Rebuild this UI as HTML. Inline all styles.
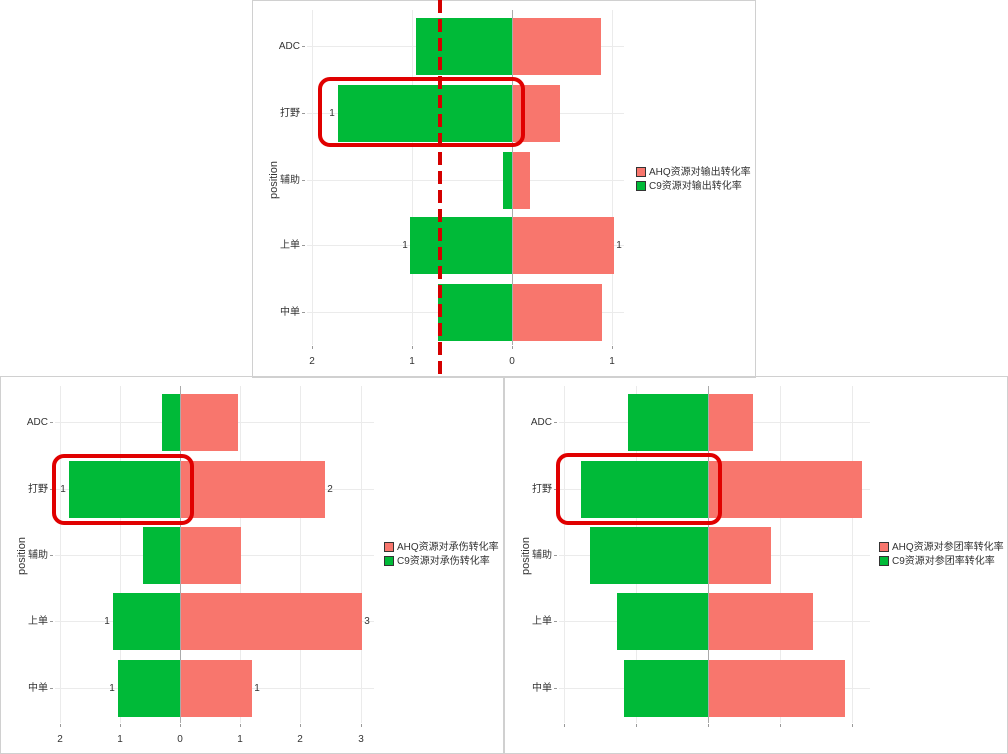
<!DOCTYPE html>
<html><head><meta charset="utf-8"><style>
body{margin:0;width:1008px;height:754px;background:#fff;position:relative;overflow:hidden;font-family:"Liberation Sans","Noto Sans CJK SC",sans-serif;}
div{position:absolute;box-sizing:border-box;}
.t{font-size:10px;color:#333;white-space:nowrap;line-height:12px;}
</style></head><body>
<script>
function d(x,y,w,h,s,txt){var e=document.createElement('div');e.style.cssText='left:'+x+'px;top:'+y+'px;width:'+w+'px;height:'+h+'px;'+(s||'');if(txt!==undefined){e.textContent=txt;e.className='t';}document.body.appendChild(e);return e;}
function txt(x,y,s,align){var e=document.createElement('div');e.className='t';e.textContent=s;e.style.top=(y-5)+'px';if(align==='r'){e.style.right=(1008-x)+'px';}else if(align==='c'){e.style.left=(x-20)+'px';e.style.width='40px';e.style.textAlign='center';}else e.style.left=x+'px';document.body.appendChild(e);}
var labels=['ADC','打野','辅助','上单','中单'];
function panel(o){
 d(o.px,o.py,504,378,'border:1px solid #d0d0d0;');
 o.grid.forEach(function(g){d(g,o.gy0,1,o.gy1-o.gy0,'background:#ebebeb;');});
 o.rows.forEach(function(r){d(o.gx0,r-0.5,o.gx1-o.gx0,1,'background:#ebebeb;');});
 o.bars.forEach(function(b,i){var r=o.rows[i];
  d(b[0],r-28,o.z-b[0],57,'background:#00ba38;');
  d(o.z,r-28,b[1]-o.z,57,'background:#f8766d;');});
 d(o.z,o.gy0,1,o.gy1-o.gy0,'background:#aaa;');
 o.rows.forEach(function(r,i){txt(o.gx0-7,r,labels[i],'r');d(o.gx0-5,r,3,1,'background:#999;');});
 var e=d(o.px+2,o.py+173,30,14,'transform:rotate(-90deg);font-size:11px;text-align:center;line-height:14px;width:50px;left:'+(o.px-3)+'px;','position');e.className='t';e.style.fontSize='11px';
 o.ticks.forEach(function(t){d(t[0],o.gy1+1,1,3,'background:#999;');if(t[1])txt(t[0],o.gy1+16,t[1],'c');});
 (o.dl||[]).forEach(function(l){txt(l[0],l[1],l[2],'c');});
 d(o.lx,o.ly,10,10,'background:#f8766d;border:1px solid #333;');
 d(o.lx,o.ly+14,10,10,'background:#00ba38;border:1px solid #333;');
 txt(o.lx+13,o.ly+5,o.l1);txt(o.lx+13,o.ly+19,o.l2);
 d(o.rx,o.ry,o.rw,o.rh,'border:4px solid #e00000;border-radius:12px;');
}
panel({px:252,py:0,z:512,gx0:307,gx1:624,gy0:10,gy1:345,grid:[312,412,612],rows:[46,113,180,245,312],
 bars:[[416,601],[338,560],[503,530],[410,614],[438,602]],
 ticks:[[312,'2'],[412,'1'],[512,'0'],[612,'1']],dl:[[332,113,'1'],[405,245,'1'],[619,245,'1']],
 lx:636,ly:167,l1:'AHQ资源对输出转化率',l2:'C9资源对输出转化率',rx:318,ry:77,rw:207,rh:70});
panel({px:0,py:376,z:180,gx0:55,gx1:374,gy0:386,gy1:723,grid:[60,120,240,300,361],rows:[422,489,555,621,688],
 bars:[[162,238],[69,325],[143,241],[113,362],[118,252]],
 ticks:[[60,'2'],[120,'1'],[180,'0'],[240,'1'],[300,'2'],[361,'3']],dl:[[63,489,'1'],[330,489,'2'],[107,621,'1'],[367,621,'3'],[112,688,'1'],[257,688,'1']],
 lx:384,ly:542,l1:'AHQ资源对承伤转化率',l2:'C9资源对承伤转化率',rx:52,ry:454,rw:142,rh:71});
panel({px:504,py:376,z:708,gx0:559,gx1:870,gy0:386,gy1:723,grid:[564,636,780,852],rows:[422,489,555,621,688],
 bars:[[628,753],[581,862],[590,771],[617,813],[624,845]],
 ticks:[[564],[636],[708],[780],[852]],
 lx:879,ly:542,l1:'AHQ资源对参团率转化率',l2:'C9资源对参团率转化率',rx:556,ry:453,rw:166,rh:72});
d(438,0,4,377,'background:repeating-linear-gradient(to bottom,#d40000 0 13px,transparent 13px 19px);');
</script>
</body></html>
